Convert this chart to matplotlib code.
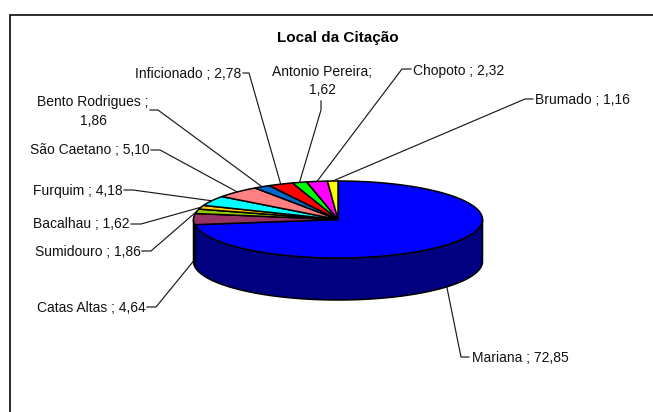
import numpy as np
import matplotlib
matplotlib.use("Agg")
import matplotlib.pyplot as plt
from matplotlib.patches import Polygon

plt.rcParams['font.family'] = ['Liberation Sans', 'DejaVu Sans']

# clockwise from 12 o'clock
names = ["Mariana ;", "Catas Altas ;", "Sumidouro ;", "Bacalhau ;", "Furquim ;", "São Caetano ;",
         "Bento Rodrigues ;", "Inficionado ;", "Antonio Pereira;", "Chopoto ;", "Brumado ;"]
values = [72.85, 4.64, 1.86, 1.62, 4.18, 5.10, 1.86, 2.78, 1.62, 2.32, 1.16]
colors = ["#0000FF", "#993366", "#99CC00", "#FFCC00", "#00FFFF", "#FF8080",
          "#0066CC", "#FF0000", "#00FF00", "#FF00FF", "#FFFF00"]
side_colors = {0: "#000080", 1: "#4C1933"}

# label placement: text x, text y, alignment, elbow x, elbow y, gap
label_spots = [
    (472, 358, "left", 461, 357, " "),
    (146, 308, "right", 156, 307, " "),
    (141, 252, "right", 151, 251, " "),
    (130, 224, "right", 141, 224, " "),
    (123, 191, "right", 133, 190, " "),
    (150, 150, "right", 160, 150, " "),
    (93, 111.5, "center", 158, 110, "\n"),
    (241, 74, "right", 249, 73, " "),
    (322, 81, "center", 321, 110, "\n"),
    (413, 71, "left", 402, 69, " "),
    (535, 100, "left", 525, 99, " "),
]
stub_ends = {0: 469, 1: 147, 2: 142, 3: 131, 4: 124, 5: 151, 6: 150, 7: 243, 8: None, 9: 411, 10: 533}

cx, cy = 338, 219.5
rx, ry = 144.5, 38.5
depth = 42


def rim(theta):
    t = np.radians(theta)
    return cx + rx * np.sin(t), cy - ry * np.cos(t)


fig = plt.figure(figsize=(6.53, 4.12), dpi=100)
ax = fig.add_axes([0, 0, 1, 1])
ax.set_xlim(0, 653)
ax.set_ylim(412, 0)
ax.axis("off")

# frame only runs along the top and left
ax.plot([10, 10, 653], [412, 15, 15], color="#1a1a1a", lw=1.3, solid_joinstyle="miter")

ax.text(337.5, 37.5, "Local da Citação", ha="center", va="center", fontsize=11, fontweight="bold")

edges = np.cumsum([0] + values) / sum(values) * 360

# side wall, only the front half of the disc shows
for i in side_colors:
    start = max(edges[i], 90)
    stop = min(edges[i + 1], 270)
    t = np.linspace(start, stop, 120)
    x, y = rim(t)
    pts = np.column_stack([np.r_[x, x[::-1]], np.r_[y, y[::-1] + depth]])
    ax.add_patch(Polygon(pts, closed=True, facecolor=side_colors[i], edgecolor="black", lw=1.1, zorder=2))

# top face
for i in range(len(values)):
    t = np.linspace(edges[i], edges[i + 1], 120)
    x, y = rim(t)
    pts = np.column_stack([np.r_[cx, x], np.r_[cy, y]])
    ax.add_patch(Polygon(pts, closed=True, facecolor=colors[i], edgecolor="black", lw=1.1, zorder=3))

# leader lines and labels
for i, (tx, ty, align, ex, ey, gap) in enumerate(label_spots):
    mid = (edges[i] + edges[i + 1]) / 2
    ax_x, ax_y = rim(mid)
    if 90 < mid < 271:
        ax_y = ax_y + depth
    xs, ys = [ax_x, ex], [ax_y, ey]
    if i == 8:
        xs.append(ex)
        ys.append(101)
    else:
        xs.append(stub_ends[i])
        ys.append(ey)
    ax.plot(xs, ys, color="#1a1a1a", lw=0.85, zorder=1)
    text = names[i] + gap + f"{values[i]:.2f}".replace(".", ",")
    ax.text(tx, ty, text, ha=align, va="center", fontsize=10, color="#111111", linespacing=1.4)

fig.savefig("out.png", dpi=100)
